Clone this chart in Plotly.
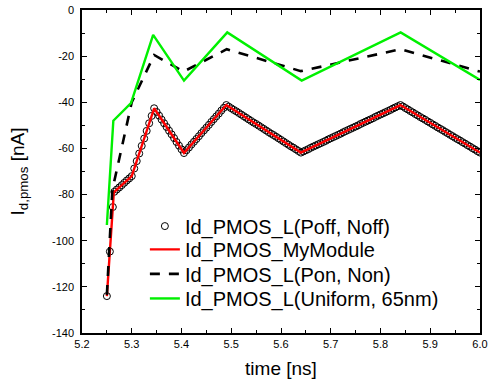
import plotly.graph_objects as go

# ---- data ----
# Id_PMOS_L(Poff, Noff)  (dense open circles)
t_circ = [5.250, 5.256, 5.262, 5.265, 5.270, 5.275, 5.280, 5.285, 5.290, 5.295, 5.300,
          5.305, 5.310, 5.315, 5.320, 5.325, 5.330, 5.335, 5.340, 5.345,
          5.350, 5.355, 5.360, 5.365, 5.370, 5.375, 5.380, 5.385, 5.390, 5.395, 5.400, 5.405,
          5.410, 5.415, 5.420, 5.425, 5.430, 5.435, 5.440, 5.445, 5.450, 5.455, 5.460, 5.465,
          5.470, 5.475, 5.480, 5.485, 5.490,
          5.495, 5.500, 5.505, 5.510, 5.515, 5.520, 5.525, 5.530, 5.535, 5.540, 5.545, 5.550,
          5.555, 5.560, 5.565, 5.570, 5.575, 5.580, 5.585, 5.590, 5.595, 5.600, 5.605, 5.610,
          5.615, 5.620, 5.625, 5.630, 5.635, 5.640,
          5.645, 5.650, 5.655, 5.660, 5.665, 5.670, 5.675, 5.680, 5.685, 5.690, 5.695, 5.700,
          5.705, 5.710, 5.715, 5.720, 5.725, 5.730, 5.735, 5.740, 5.745, 5.750, 5.755, 5.760,
          5.765, 5.770, 5.775, 5.780, 5.785, 5.790, 5.795, 5.800, 5.805, 5.810, 5.815, 5.820,
          5.825, 5.830, 5.835, 5.840,
          5.845, 5.850, 5.855, 5.860, 5.865, 5.870, 5.875, 5.880, 5.885, 5.890, 5.895, 5.900,
          5.905, 5.910, 5.915, 5.920, 5.925, 5.930, 5.935, 5.940, 5.945, 5.950, 5.955, 5.960,
          5.965, 5.970, 5.975, 5.980, 5.985, 5.990, 5.995, 6.000]
v_circ = [-124.0, -104.7, -85.4, -78.8, -77.8, -76.9, -75.9, -74.9, -73.9, -73.0, -72.0,
          -68.7, -65.5, -62.2, -58.9, -55.7, -52.4, -49.1, -45.9, -42.6,
          -44.2, -45.8, -47.5, -49.1, -50.7, -52.3, -53.9, -55.5, -57.2, -58.8, -60.4, -62.0,
          -60.8, -59.6, -58.3, -57.1, -55.9, -54.7, -53.4, -52.2, -51.0, -49.8, -48.5, -47.3,
          -46.1, -44.9, -43.6, -42.4, -41.2,
          -41.9, -42.6, -43.3, -43.9, -44.6, -45.3, -46.0, -46.7, -47.4, -48.1, -48.8, -49.4,
          -50.1, -50.8, -51.5, -52.2, -52.9, -53.6, -54.2, -54.9, -55.6, -56.3, -57.0, -57.7,
          -58.4, -59.1, -59.7, -60.4, -61.1, -61.8,
          -61.3, -60.8, -60.3, -59.7, -59.2, -58.7, -58.2, -57.7, -57.2, -56.7, -56.1, -55.6,
          -55.1, -54.6, -54.1, -53.6, -53.0, -52.5, -52.0, -51.5, -51.0, -50.5, -50.0, -49.4,
          -48.9, -48.4, -47.9, -47.4, -46.9, -46.3, -45.8, -45.3, -44.8, -44.3, -43.8, -43.3,
          -42.7, -42.2, -41.7, -41.2,
          -41.8, -42.5, -43.1, -43.8, -44.4, -45.1, -45.7, -46.4, -47.0, -47.6, -48.3, -48.9,
          -49.6, -50.2, -50.9, -51.5, -52.1, -52.8, -53.4, -54.1, -54.7, -55.4, -56.0, -56.6,
          -57.3, -57.9, -58.6, -59.2, -59.9, -60.5, -61.2, -61.8]

# Id_PMOS_MyModule (red solid)
t_red = [5.250, 5.264, 5.300, 5.345, 5.405, 5.490, 5.640, 5.840, 6.000]
v_red = [-124.0, -79.0, -72.0, -42.6, -62.0, -41.2, -61.8, -41.2, -61.8]

# Id_PMOS_L(Pon, Non) (black dashed)
t_pon = [5.250, 5.261, 5.300, 5.345, 5.404, 5.491, 5.640, 5.840, 6.000]
v_pon = [-123.5, -78.0, -40.0, -19.5, -26.7, -17.0, -26.5, -17.0, -26.7]

# Id_PMOS_L(Uniform, 65nm) (green solid)
t_uni = [5.250, 5.263, 5.2985, 5.343, 5.405, 5.492, 5.6416, 5.8405, 6.000]
v_uni = [-93.2, -48.0, -40.4, -10.8, -30.6, -9.7, -30.6, -9.7, -30.3]

names = ["Id_PMOS_L(Poff, Noff)", "Id_PMOS_MyModule",
         "Id_PMOS_L(Pon, Non)", "Id_PMOS_L(Uniform, 65nm)"]

x_tick_vals = [5.2, 5.3, 5.4, 5.5, 5.6, 5.7, 5.8, 5.9, 6.0]
x_tick_text = ["5.2", "5.3", "5.4", "5.5", "5.6", "5.7", "5.8", "5.9", "6.0"]
y_tick_vals = [0, -20, -40, -60, -80, -100, -120, -140]
y_tick_text = ["0", "-20", "-40", "-60", "-80", "-100", "-120", "-140"]

FONT = "Arial, Liberation Sans, sans-serif"

fig = go.Figure()
fig.add_trace(go.Scatter(x=t_circ, y=v_circ, mode="markers", name=names[0],
                         marker=dict(symbol="circle-open", size=7, color="black",
                                     line=dict(width=1, color="black")),
                         legend="legend"))
fig.add_trace(go.Scatter(x=t_red, y=v_red, mode="lines", name=names[1],
                         line=dict(color="#ff0000", width=2.4), legend="legend2"))
fig.add_trace(go.Scatter(x=t_pon, y=v_pon, mode="lines", name=names[2],
                         line=dict(color="black", width=2.6, dash="10px,9px"),
                         legend="legend3"))
fig.add_trace(go.Scatter(x=t_uni, y=v_uni, mode="lines", name=names[3],
                         line=dict(color="#00f000", width=2.4), legend="legend4"))

axis_common = dict(showline=True, linecolor="black", linewidth=1.5, mirror="ticks",
                   ticks="inside", ticklen=5, tickwidth=1, tickcolor="black",
                   showgrid=False, zeroline=False, automargin=False,
                   tickfont=dict(family=FONT, size=11, color="black"))

fig.update_xaxes(range=[5.2, 6.0], tickvals=x_tick_vals, ticktext=x_tick_text,
                 minor=dict(dtick=0.05, ticks="inside", ticklen=3, tickcolor="black",
                            showgrid=False),
                 title=dict(text="time [ns]", font=dict(family=FONT, size=19, color="black"),
                            standoff=13),
                 **axis_common)
fig.update_yaxes(range=[-140, 0], tickvals=y_tick_vals, ticktext=y_tick_text,
                 ticklabelstandoff=4,
                 minor=dict(dtick=10, ticks="inside", ticklen=3, tickcolor="black",
                            showgrid=False),
                 title=dict(text="I<sub>d,pmos</sub> [nA]",
                            font=dict(family=FONT, size=19, color="black"),
                            standoff=22),
                 **axis_common)

leg_common = dict(x=0.158, xanchor="left", yanchor="middle", bgcolor="rgba(0,0,0,0)",
                  borderwidth=0, font=dict(family=FONT, size=20, color="black"))
fig.update_layout(
    width=488, height=384,
    margin=dict(l=82, r=8, t=10, b=51),
    paper_bgcolor="white", plot_bgcolor="white",
    showlegend=True,
    hovermode=False,
    legend=dict(y=0.331, **leg_common),
    legend2=dict(y=0.259, **leg_common),
    legend3=dict(y=0.183, **leg_common),
    legend4=dict(y=0.107, **leg_common),
)

fig.write_html("out.html",
               config={"displayModeBar": False},
               post_script="document.body.style.margin='0';"
                           "document.body.style.overflow='hidden';")
